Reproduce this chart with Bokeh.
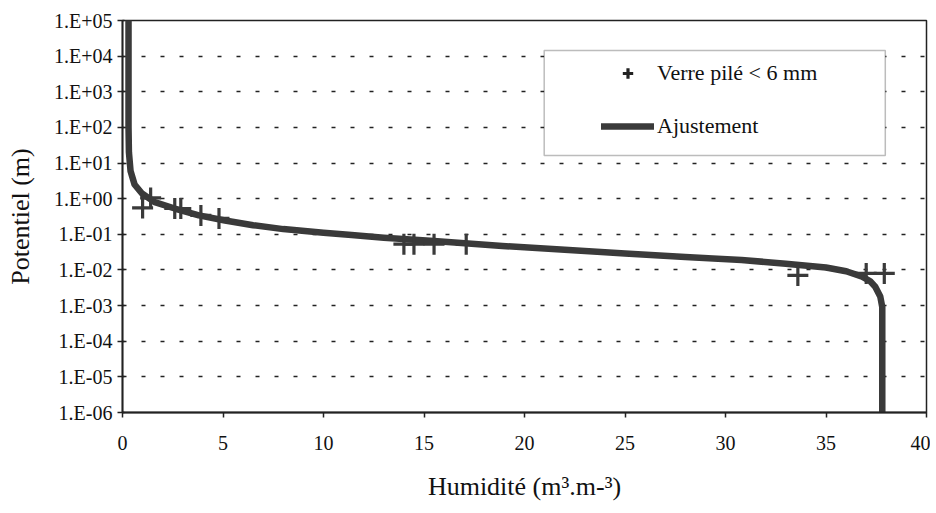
from bokeh.plotting import figure
from bokeh.models import ColumnDataSource, Legend, LegendItem, BoxAnnotation, FixedTicker
from bokeh.embed import file_html
from bokeh.resources import INLINE

# ---- data ----
meas_theta = [1.0, 1.4, 2.6, 2.9, 3.9, 4.8, 14.0, 14.5, 15.5, 17.1, 33.6, 37.0, 37.9]
meas_h = [0.55, 1.05, 0.53, 0.53, 0.34, 0.28, 0.053, 0.053, 0.053, 0.053, 0.007, 0.008, 0.008]

fit_theta = [0.3, 0.3, 0.3, 0.32, 0.4, 0.6, 0.97, 1.6, 2.6, 3.8, 5.1, 6.5, 8.0, 10.0,
             11.4, 13.0, 15.5, 18.9, 22.0, 25.0, 28.0, 30.8, 33.0, 35.0, 36.0, 36.8,
             37.2, 37.45, 37.7, 37.8, 37.8]
fit_h = [1e5, 1e3, 1e2, 20, 6, 2.5, 1.4, 0.8, 0.53, 0.34, 0.245, 0.18, 0.14, 0.11,
         0.095, 0.08, 0.065, 0.047, 0.037, 0.029, 0.023, 0.019, 0.015, 0.0117, 0.0092, 0.0065,
         0.0048, 0.0034, 0.0018, 0.0009, 1e-6]

x_ticks = [0, 5, 10, 15, 20, 25, 30, 35, 40]
x_tick_labels = ["0", "5", "10", "15", "20", "25", "30", "35", "40"]
y_ticks = [1e-6, 1e-5, 1e-4, 1e-3, 1e-2, 1e-1, 1e0, 1e1, 1e2, 1e3, 1e4, 1e5]
y_tick_labels = ["1.E-06", "1.E-05", "1.E-04", "1.E-03", "1.E-02", "1.E-01",
                 "1.E+00", "1.E+01", "1.E+02", "1.E+03", "1.E+04", "1.E+05"]

series_label = "Verre pilé < 6 mm"
fit_label = "Ajustement"

FONT = "'Liberation Serif', 'Times New Roman', serif"
INK = "#3a3a3a"

p = figure(width=930, height=510, x_range=(0, 40), y_range=(1e-6, 1e5),
           y_axis_type="log", output_backend="svg", toolbar_location=None,
           min_border_left=122, min_border_right=4, min_border_top=20,
           min_border_bottom=98)

p.background_fill_color = "white"
p.border_fill_color = "white"
p.outline_line_color = "#222222"
p.outline_line_width = 1.5

# axes
p.xaxis.ticker = FixedTicker(ticks=x_ticks)
p.xaxis.major_label_overrides = dict(zip(x_ticks, x_tick_labels))
p.yaxis.ticker = FixedTicker(ticks=y_ticks)
p.yaxis.major_label_overrides = dict(zip(y_ticks, y_tick_labels))

for ax in (p.xaxis[0], p.yaxis[0]):
    ax.axis_line_color = "#222222"
    ax.axis_line_width = 1.8
    ax.major_tick_line_color = "#222222"
    ax.major_tick_line_width = 1.5
    ax.minor_tick_line_color = None
    ax.major_label_text_font = FONT
    ax.major_label_text_font_size = "20px"
    ax.major_label_text_color = "#111111"
    ax.axis_label_text_font = FONT
    ax.axis_label_text_font_size = "26px"
    ax.axis_label_text_font_style = "normal"
    ax.axis_label_text_color = "#111111"

p.xaxis.major_tick_out = 5
p.xaxis.major_tick_in = 0
p.xaxis.major_label_standoff = 18
p.xaxis.axis_label_standoff = 19
p.xaxis.axis_label = "Humidité (m³.m-³)"

p.yaxis.major_tick_out = 5
p.yaxis.major_tick_in = 2
p.yaxis.major_label_standoff = 5
p.yaxis.axis_label_standoff = 16
p.yaxis.axis_label = "Potentiel (m)"

# grid
p.xgrid.visible = False
p.ygrid.grid_line_color = "#222222"
p.ygrid.grid_line_width = 1.5
p.ygrid.grid_line_dash = "4 15"

# fitted curve
fit_src = ColumnDataSource(dict(x=fit_theta, y=fit_h))
curve = p.line("x", "y", source=fit_src, line_color=INK, line_width=6.5,
               line_join="round", line_cap="round")

# measurements
meas_src = ColumnDataSource(dict(x=meas_theta, y=meas_h))
p.scatter("x", "y", source=meas_src, marker="cross", size=21,
          line_color=INK, line_width=3.2)

# legend marker (smaller, legend only; hidden on the plot)
leg_marker = p.scatter("x", "y", source=meas_src, marker="cross", size=13,
                       line_color="#222222", line_width=3.2, visible=False)

# legend frame
box = BoxAnnotation(left=20.98, right=37.95, top=14390, bottom=16.3,
                    fill_color="white", fill_alpha=1.0,
                    line_color="#222222", line_width=1.5)
p.add_layout(box)

legend = Legend(items=[LegendItem(label=series_label, renderers=[leg_marker]),
                       LegendItem(label=fit_label, renderers=[curve])],
                location=(479, 273), padding=0, spacing=27,
                glyph_width=53, glyph_height=26, label_height=26,
                label_standoff=3, border_line_alpha=0,
                background_fill_alpha=0,
                label_text_font=FONT, label_text_font_size="22px",
                label_text_color="#111111")
p.add_layout(legend)

open("out.html", "w").write(file_html(p, INLINE))
